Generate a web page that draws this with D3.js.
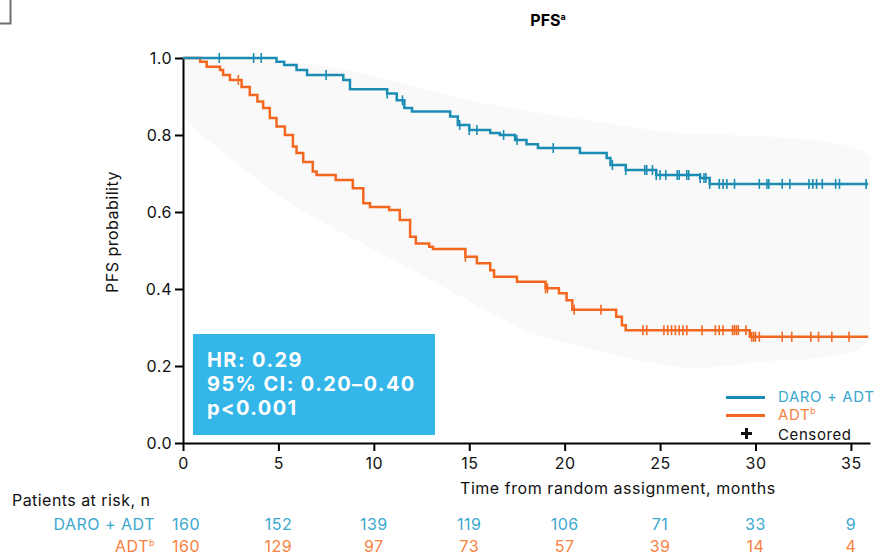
<!DOCTYPE html>
<html>
<head>
<meta charset="utf-8">
<script src="https://cdn.jsdelivr.net/npm/d3@7"></script>
<style>
  body { margin: 0; background: #fff; }
  svg { font-family: Inter, "Noto Sans", sans-serif; }
</style>
</head>
<body>
<svg id="chart" width="877" height="555"></svg>
<script>
// KM step points [month, probability]
let daroSteps = [[0,1],[4.9,0.99],[5.3,0.982],[5.95,0.969],[6.5,0.956],[8.4,0.943],[8.75,0.919],[10.7,0.908],[11.2,0.89],[11.6,0.87],[12.0,0.861],[14.0,0.848],[14.4,0.826],[15.0,0.813],[16.1,0.805],[16.6,0.8],[17.4,0.787],[18.0,0.776],[18.6,0.766],[20.8,0.753],[22.2,0.74],[22.4,0.722],[23.2,0.709],[24.8,0.696],[27.1,0.688],[27.6,0.673]]
let adtSteps = [[0,1],[0.9,0.99],[1.24,0.977],[1.94,0.969],[2.1,0.956],[2.46,0.943],[3.07,0.925],[3.5,0.904],[3.9,0.887],[4.2,0.87],[4.55,0.844],[4.9,0.822],[5.34,0.8],[5.76,0.77],[5.95,0.753],[6.3,0.73],[6.8,0.705],[7.0,0.696],[8.0,0.683],[8.9,0.662],[9.45,0.623],[9.8,0.613],[10.8,0.605],[11.36,0.579],[11.9,0.536],[12.2,0.518],[12.9,0.51],[13.1,0.504],[14.8,0.484],[15.4,0.467],[16.1,0.449],[16.3,0.432],[17.5,0.419],[19.0,0.402],[19.7,0.389],[20.1,0.371],[20.4,0.346],[22.7,0.328],[23.0,0.306],[23.2,0.293],[29.7,0.276]]
let lastMonth = 35.9

let daroCensored = [1.9,3.7,4.1,7.5,10.7,11.5,14.5,15.0,15.4,16.8,17.5,19.4,22.5,23.2,24.2,24.3,24.6,24.8,25.0,25.3,25.9,26.0,26.4,26.5,27.1,27.3,27.4,27.6,28.1,28.3,28.5,28.9,30.2,30.6,30.7,31.4,31.8,32.8,33.0,33.2,33.5,34.2,34.4,35.8]
let adtCensored = [2.9,14.8,19.0,19.1,20.5,21.9,24.1,24.3,25.2,25.4,25.6,25.8,26.0,26.2,26.4,27.2,27.9,28.1,28.3,28.8,28.9,29.0,29.1,29.5,29.8,29.9,30.0,30.2,31.4,31.9,32.9,33.3,34.0,34.9]

// faint shaded band behind curves
let bandUpper = [[0,1.0],[8,0.975],[15.5,0.885],[25,0.81],[36,0.745]]
let bandLower = [[36,0.27],[30,0.21],[26,0.197],[20,0.26],[17.6,0.3],[12,0.45],[5.4,0.63],[0,0.85]]

let yTicks = [0, 0.2, 0.4, 0.6, 0.8, 1.0]
let xTicks = [0, 5, 10, 15, 20, 25, 30, 35]
let riskDaro = [160, 152, 139, 119, 106, 71, 33, 9]
let riskAdt = [160, 129, 97, 73, 57, 39, 14, 4]
let hrLines = ["HR: 0.29", "95% CI: 0.20\u20130.40", "p<0.001"]

let blue = "#1b8db5", orange = "#f4671f"
let blueText = "#3aa8cf", orangeText = "#f7813f"

let x = d3.scaleLinear().domain([0, 36]).range([183, 870])
let y = d3.scaleLinear().domain([0, 1]).range([443, 58])

let svg = d3.select("#chart")

svg.append("clipPath").attr("id", "plot")
    .append("rect")
    .attr("x", x(0)).attr("y", y(1))
    .attr("width", x(36) - x(0)).attr("height", y(0) - y(1))

// corner bracket
svg.append("path")
    .attr("d", "M0,23.5H10.5V0")
    .attr("fill", "none")
    .attr("stroke", "#6d6d72")
    .attr("stroke-width", 2)

svg.append("path")
    .datum(bandUpper.concat(bandLower))
    .attr("clip-path", "url(#plot)")
    .attr("d", d3.line().x(d => x(d[0])).y(d => y(d[1])).curve(d3.curveCardinalClosed.tension(0.3)))
    .attr("fill", "#f9f9f9")

// title
let title = svg.append("text")
    .attr("x", 548).attr("y", 26)
    .attr("text-anchor", "middle")
    .attr("font-size", 16).attr("font-weight", "bold")
title.append("tspan").text("PFS")
title.append("tspan").attr("font-size", 9).attr("dy", -6).text("a")

// HR box
svg.append("rect")
    .attr("x", 193).attr("y", 334)
    .attr("width", 242).attr("height", 101)
    .attr("fill", "#35b6e9")

svg.append("g")
    .selectAll("text")
    .data(hrLines)
    .join("text")
    .attr("x", 207)
    .attr("y", (d, i) => 367 + i * 24)
    .attr("fill", "#fff")
    .attr("font-size", 20).attr("font-weight", "bold")
    .attr("letter-spacing", 1.4)
    .text(d => d)

// axes
let axisL = d3.axisLeft(y).tickValues(yTicks).tickFormat(d3.format(".1f"))
    .tickSizeInner(8).tickSizeOuter(0).tickPadding(3)
let axisB = d3.axisBottom(x).tickValues(xTicks)
    .tickSizeInner(8).tickSizeOuter(0).tickPadding(7)

function styleAxis(g) {
    g.select(".domain").attr("stroke-width", 2)
    g.selectAll(".tick line").attr("stroke-width", 2)
    g.selectAll("text").attr("font-size", 16).attr("font-family", "Inter, sans-serif")
        .attr("letter-spacing", 0.5).attr("fill", "#111")
}

svg.append("g")
    .attr("transform", "translate(183,0)")
    .call(axisL)
    .call(styleAxis)

svg.append("g")
    .attr("transform", "translate(0,443)")
    .call(axisB)
    .call(styleAxis)

svg.append("text")
    .attr("transform", "translate(118,232) rotate(-90)")
    .attr("text-anchor", "middle")
    .attr("font-size", 16).attr("letter-spacing", 0.5).attr("fill", "#111")
    .text("PFS probability")

svg.append("text")
    .attr("x", 460).attr("y", 494)
    .attr("font-size", 16).attr("letter-spacing", 0.55).attr("fill", "#111")
    .text("Time from random assignment, months")

// curves
let stepLine = d3.line().x(d => x(d[0])).y(d => y(d[1])).curve(d3.curveStepAfter)
let bisect = d3.bisector(d => d[0]).right

function drawArm(steps, censored, color) {
    let pts = steps.concat([[lastMonth, steps[steps.length - 1][1]]])
    svg.append("path")
        .datum(pts)
        .attr("d", stepLine)
        .attr("fill", "none")
        .attr("stroke", color)
        .attr("stroke-width", 2.5)

    svg.append("g")
        .selectAll("line")
        .data(censored)
        .join("line")
        .attr("x1", d => x(d)).attr("x2", d => x(d))
        .attr("y1", d => y(steps[bisect(steps, d) - 1][1]) - 5)
        .attr("y2", d => y(steps[bisect(steps, d) - 1][1]) + 5)
        .attr("stroke", color)
        .attr("stroke-width", 1.6)
}

drawArm(adtSteps, adtCensored, orange)
drawArm(daroSteps, daroCensored, blue)

// legend
let legend = svg.append("g").attr("font-size", 15).attr("letter-spacing", 0.6)
legend.append("line").attr("x1", 726).attr("x2", 765).attr("y1", 397.5).attr("y2", 397.5)
    .attr("stroke", blue).attr("stroke-width", 3)
legend.append("line").attr("x1", 726).attr("x2", 765).attr("y1", 415.5).attr("y2", 415.5)
    .attr("stroke", orange).attr("stroke-width", 3)
legend.append("text").attr("x", 778).attr("y", 402).attr("fill", blueText).text("DARO + ADT")
let adtLeg = legend.append("text").attr("x", 778).attr("y", 420).attr("fill", orangeText)
adtLeg.append("tspan").text("ADT")
adtLeg.append("tspan").attr("font-size", 9).attr("dy", -6).text("b")
legend.append("path").attr("d", "M746.5,428V439M741,433.5H752").attr("stroke", "#111").attr("stroke-width", 3)
legend.append("text").attr("x", 778).attr("y", 440).attr("fill", "#111").text("Censored")

// patients at risk
svg.append("text").attr("x", 12).attr("y", 506).attr("font-size", 16).attr("letter-spacing", 0.45)
    .attr("fill", "#111").text("Patients at risk, n")

svg.append("text").attr("x", 155).attr("y", 530).attr("text-anchor", "end")
    .attr("font-size", 16).attr("letter-spacing", 0.5).attr("fill", blueText).text("DARO + ADT")
let adtRow = svg.append("text").attr("x", 155).attr("y", 552).attr("text-anchor", "end")
    .attr("font-size", 16).attr("letter-spacing", 0.5).attr("fill", orangeText)
adtRow.append("tspan").text("ADT")
adtRow.append("tspan").attr("font-size", 9).attr("dy", -6).text("b")

svg.append("g")
    .selectAll("text")
    .data(riskDaro)
    .join("text")
    .attr("x", (d, i) => x(xTicks[i]) + (i === 0 ? 3 : 0))
    .attr("y", 530)
    .attr("text-anchor", "middle")
    .attr("font-size", 16).attr("letter-spacing", 0.5).attr("fill", blueText)
    .text(d => d)

svg.append("g")
    .selectAll("text")
    .data(riskAdt)
    .join("text")
    .attr("x", (d, i) => x(xTicks[i]) + (i === 0 ? 3 : 0))
    .attr("y", 552)
    .attr("text-anchor", "middle")
    .attr("font-size", 16).attr("letter-spacing", 0.5).attr("fill", orangeText)
    .text(d => d)
</script>
</body>
</html>
